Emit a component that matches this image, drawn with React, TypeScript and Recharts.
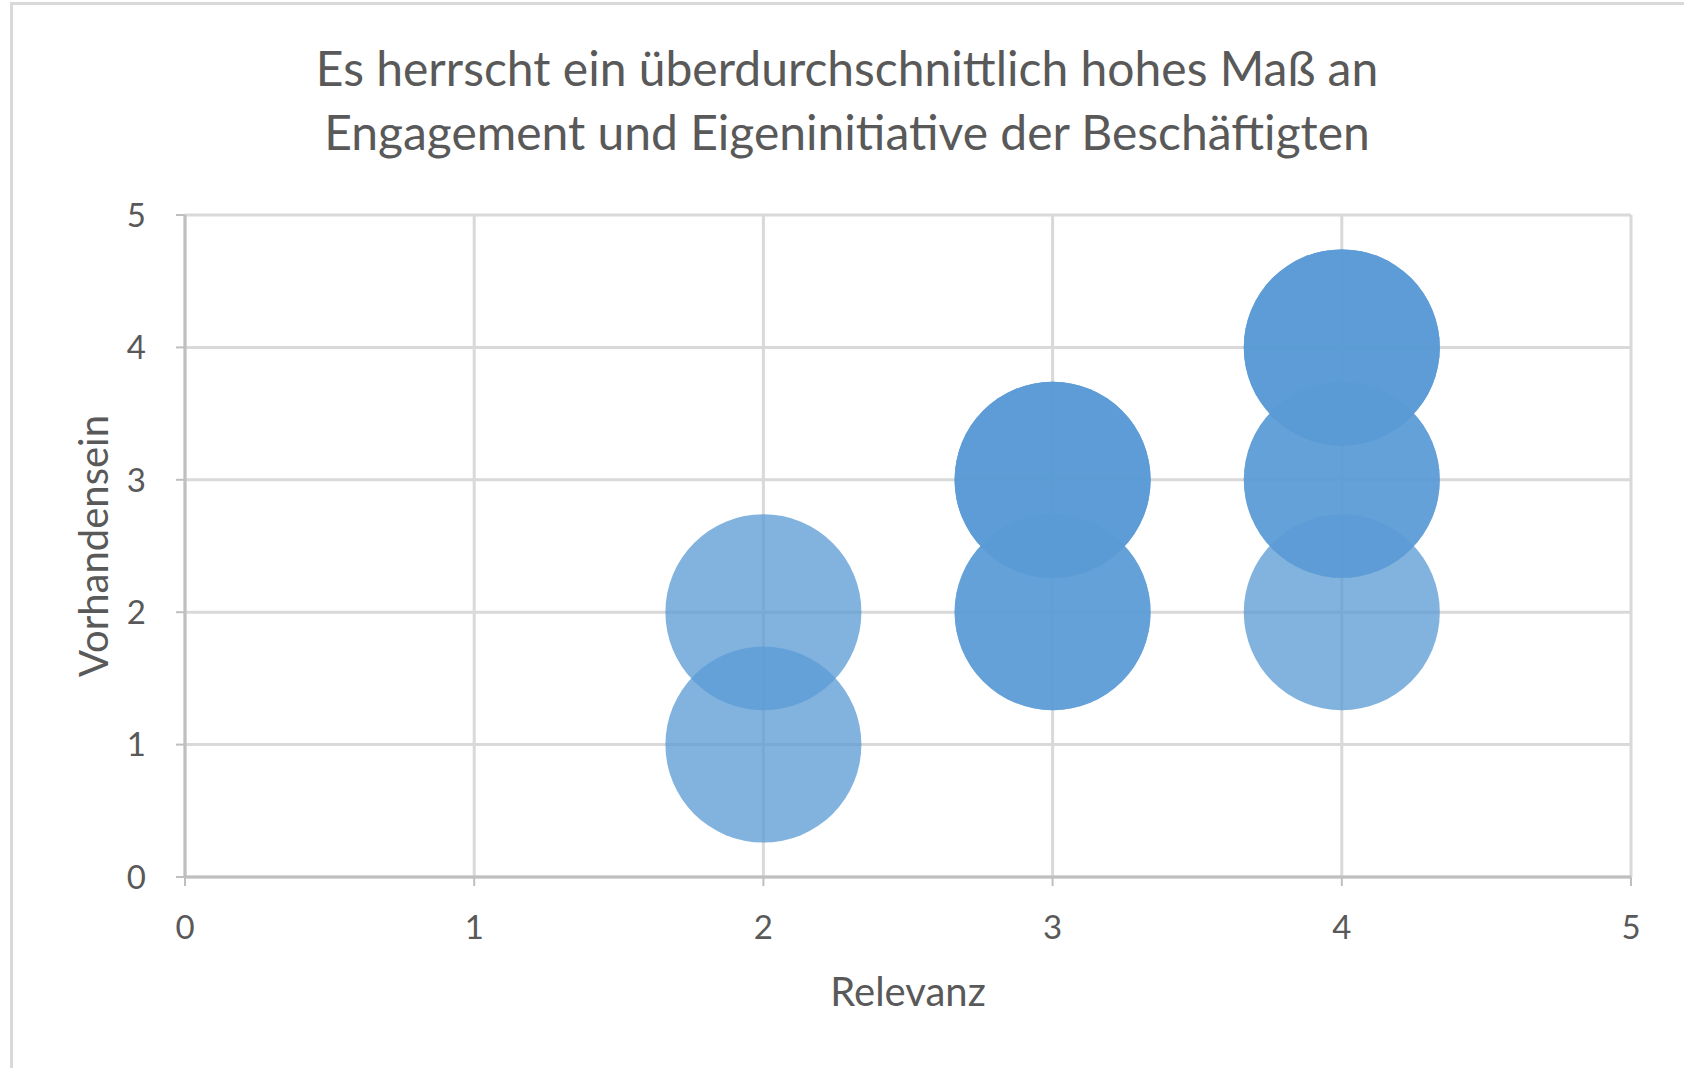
import { ScatterChart, Scatter, XAxis, YAxis, ZAxis, CartesianGrid } from 'recharts'

// one entry per answer: (Relevanz, Vorhandensein)
const relevanz = [2, 2, 3, 3, 3, 3, 3, 4, 4, 4, 4, 4, 4]
const vorhandensein = [1, 2, 2, 2, 3, 3, 3, 2, 3, 3, 4, 4, 4]
const axisTicks = [0, 1, 2, 3, 4, 5]

const TITLE_LINES = [
  'Es herrscht ein überdurchschnittlich hohes Maß an',
  'Engagement und Eigeninitiative der Beschäftigten',
]
const FONT = 'Lato, "Open Sans", sans-serif'
const TEXT = '#595959'
const BUBBLE_R = 98

const data = relevanz.map((x, i) => ({ x, y: vorhandensein[i], z: 1 }))

function XTitle({ viewBox }: any) {
  const { x, y, width } = viewBox
  return (
    <text x={x + width / 2} y={y + 114} textAnchor="middle" dominantBaseline="central"
      fill={TEXT} fontFamily={FONT} fontSize={40}>
      Relevanz
    </text>
  )
}

function YTitle({ viewBox }: any) {
  const { x, y, height } = viewBox
  const cx = x + 8
  const cy = y + height / 2
  return (
    <text x={cx} y={cy} transform={`rotate(-90 ${cx} ${cy})`} textAnchor="middle"
      dominantBaseline="central" fill={TEXT} fontFamily={FONT} fontSize={40}>
      Vorhandensein
    </text>
  )
}

export default function App() {
  const tick = { fill: TEXT, fontSize: 33, fontFamily: FONT }
  return (
    <div style={{ position: 'absolute', left: 0, top: 0, width: 1684, height: 1068, overflow: 'hidden', background: '#fff' }}>
      <div style={{ position: 'absolute', left: 10, top: 2, width: 1700, height: 1100, border: '3px solid #D9D9D9' }} />
      <div style={{ position: 'absolute', left: 11, top: 36, width: 1672, textAlign: 'center', color: TEXT, fontFamily: FONT, fontSize: 48, lineHeight: '64px' }}>
        {TITLE_LINES.map((l) => <div key={l}>{l}</div>)}
      </div>
      <div style={{ position: 'absolute', left: 0, top: 0 }}>
        <ScatterChart width={1684} height={1068} margin={{ top: 215, right: 53, bottom: 51, left: 85 }}>
          <CartesianGrid stroke="#D9D9D9" strokeWidth={3} />
          <XAxis type="number" dataKey="x" domain={[0, 5]} ticks={axisTicks} height={140}
            axisLine={{ stroke: '#BFBFBF', strokeWidth: 3 }} tickLine={{ stroke: '#BFBFBF', strokeWidth: 2 }}
            tickSize={9} tickMargin={30} tick={tick} label={<XTitle />} />
          <YAxis type="number" dataKey="y" domain={[0, 5]} ticks={axisTicks} width={100}
            axisLine={{ stroke: '#BFBFBF', strokeWidth: 3 }} tickLine={{ stroke: '#BFBFBF', strokeWidth: 2 }}
            tickSize={9} tickMargin={30} tick={tick} label={<YTitle />} />
          <ZAxis type="number" dataKey="z" range={[Math.PI * BUBBLE_R * BUBBLE_R, Math.PI * BUBBLE_R * BUBBLE_R]} />
          <Scatter data={data} fill="#5B9BD5" fillOpacity={0.76} isAnimationActive={false} />
        </ScatterChart>
      </div>
    </div>
  )
}
